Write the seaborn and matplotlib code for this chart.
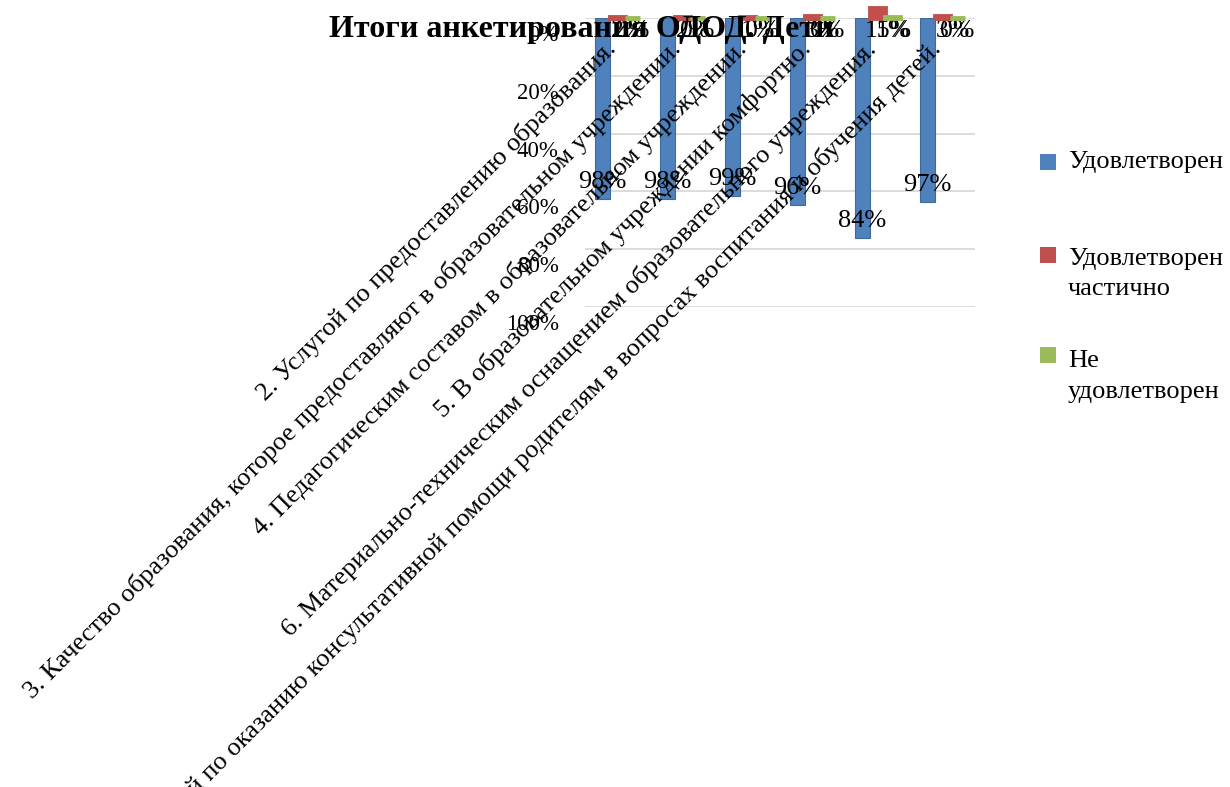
import numpy as np
import pandas as pd
import matplotlib
matplotlib.use("Agg")
import matplotlib.pyplot as plt
import matplotlib.transforms as mtransforms
from matplotlib.patches import Rectangle
import seaborn as sns


# =========================
# Data
# =========================

TITLE = "Итоги анкетирования ОДОД. Дети"

QUESTIONS = [
    "2. Услугой по предоставлению образования.",
    "3. Качество образования, которое предоставляют в образовательном учреждении.",
    "4. Педагогическим составом в образовательном учреждении.",
    "5. В образовательном учреждении комфортно.",
    "6. Материально-техническим оснащением образовательного учреждения.",
    "7. Услугой по оказанию консультативной помощи родителям в вопросах воспитания и обучения детей.",
]

SERIES = ["Удовлетворен", "Удовлетворен частично", "Не удовлетворен"]
LEGEND_LABELS = ["Удовлетворен", "Удовлетворен\nчастично", "Не\nудовлетворен"]

SATISFIED = [0.98, 0.98, 0.99, 0.96, 0.84, 0.97]
PARTLY = [0.02, 0.02, 0.01, 0.03, 0.15, 0.03]
NOT_SATISFIED = [0.00, 0.00, 0.00, 0.00, 0.01, 0.00]

Y_TICKS = [0.0, 0.2, 0.4, 0.6, 0.8, 1.0]

COLORS = ["#4F81BD", "#C0504D", "#9BBB59"]

# =========================
# Layout (pixels of the 1230x787 canvas)
# =========================

W, H = 1230, 787
BAR_WIDTH = 0.7
BLUE_LIMITS = (0.594, 1.626)   # hidden scale of the hanging blue columns
TOP_LIMITS = (0.0, 0.26)       # hidden scale of the small columns above the plot


def px_box(x0, y0, x1, y1):
    return [x0 / W, 1 - y1 / H, (x1 - x0) / W, (y1 - y0) / H]


sns.set_style("white")
plt.rcParams["font.family"] = ["Liberation Serif", "DejaVu Serif"]
plt.rcParams["text.color"] = "black"
plt.rcParams["ytick.color"] = "black"
plt.rcParams["xtick.color"] = "black"

fig = plt.figure(figsize=(W / 100, H / 100), dpi=100)

# -------------------------
# Main axis: reversed percent scale
# -------------------------
ax = fig.add_axes(px_box(585, 18, 975, 307))
ax.set_xlim(-0.5, len(QUESTIONS) - 0.5)
ax.set_ylim(1, 0)
ax.set_yticks(Y_TICKS)
ax.set_yticklabels([f"{t:.0%}" for t in Y_TICKS])
ax.yaxis.grid(True, color="#D9D9D9", lw=1.3)
ax.tick_params(axis="y", length=0, pad=19, labelsize=16.5)
ax.tick_params(axis="x", bottom=False, labelbottom=False)
for spine in ax.spines.values():
    spine.set_visible(False)
shift_down = mtransforms.ScaledTranslation(0, -0.07, fig.dpi_scale_trans)
for lbl in ax.get_yticklabels():
    lbl.set_va("top")
    lbl.set_transform(lbl.get_transform() + shift_down)

# -------------------------
# Blue columns hanging from the top
# -------------------------
ax2 = ax.twinx()
blue_df = pd.DataFrame({
    "question": QUESTIONS,
    "series": SERIES[0],
    "drop": np.array(SATISFIED) - BLUE_LIMITS[1],
})
sns.barplot(
    data=blue_df, x="question", y="drop", hue="series",
    order=QUESTIONS, hue_order=SERIES, palette=COLORS, dodge=True,
    saturation=1, width=BAR_WIDTH, errorbar=None, legend=False,
    bottom=BLUE_LIMITS[1], edgecolor="#3E6A9E", linewidth=0.8, ax=ax2,
)
ax2.set_ylim(*BLUE_LIMITS)
ax2.set_axis_off()

for cont in ax2.containers:
    if len(cont):
        ax2.bar_label(cont, labels=[f"{v:.0%}" for v in SATISFIED],
                      padding=-20, fontsize=19)

# category labels, rotated, ending near each column
for i, q in enumerate(QUESTIONS):
    ax2.text(i, 0.889, q, rotation=45, rotation_mode="anchor",
             ha="right", va="baseline", fontsize=19,
             transform=ax2.get_xaxis_transform())

# labels of the small series
for i, (p, n) in enumerate(zip(PARTLY, NOT_SATISFIED)):
    ax2.text(i + 0.16, 0.955, f"{p:.0%}", ha="center", va="center",
             fontsize=18.5, transform=ax2.get_xaxis_transform())
    ax2.text(i + BAR_WIDTH / 3, 0.955, f"{n:.0%}", ha="center", va="center",
             fontsize=18.5, transform=ax2.get_xaxis_transform())

# -------------------------
# Small columns poking above the plot
# -------------------------
ax3 = fig.add_axes(px_box(585, 0, 975, 18))
top_df = pd.DataFrame({
    "question": QUESTIONS * 2,
    "series": [SERIES[1]] * len(QUESTIONS) + [SERIES[2]] * len(QUESTIONS),
    "value": PARTLY + NOT_SATISFIED,
})
sns.barplot(
    data=top_df, x="question", y="value", hue="series",
    order=QUESTIONS, hue_order=SERIES, palette=COLORS, dodge=True,
    saturation=1, width=BAR_WIDTH, errorbar=None, legend=False, ax=ax3,
)
ax3.set_ylim(*TOP_LIMITS)
ax3.set_xlim(-0.5, len(QUESTIONS) - 0.5)
ax3.set_axis_off()
for bar in ax3.patches:
    bar.set_edgecolor(bar.get_facecolor())
    bar.set_linewidth(3.5)
    bar.set_clip_on(False)

# -------------------------
# Title and legend
# -------------------------
fig.text(581 / W, 1 - 30 / H, TITLE, ha="center", va="center",
         fontsize=23, fontweight="bold")

legend_squares = [162, 255, 355]
legend_baselines = [168, 295, 398]   # baseline of the last line of each entry
for color, label, yc, yb in zip(COLORS, LEGEND_LABELS, legend_squares, legend_baselines):
    fig.add_artist(Rectangle((1040 / W, 1 - (yc + 8) / H), 16 / W, 16 / H,
                             facecolor=color, edgecolor="none",
                             transform=fig.transFigure))
    fig.text(1068 / W, 1 - yb / H, label, ha="left", va="baseline",
             fontsize=19, linespacing=1.5)

fig.savefig("out.png", dpi=100)
